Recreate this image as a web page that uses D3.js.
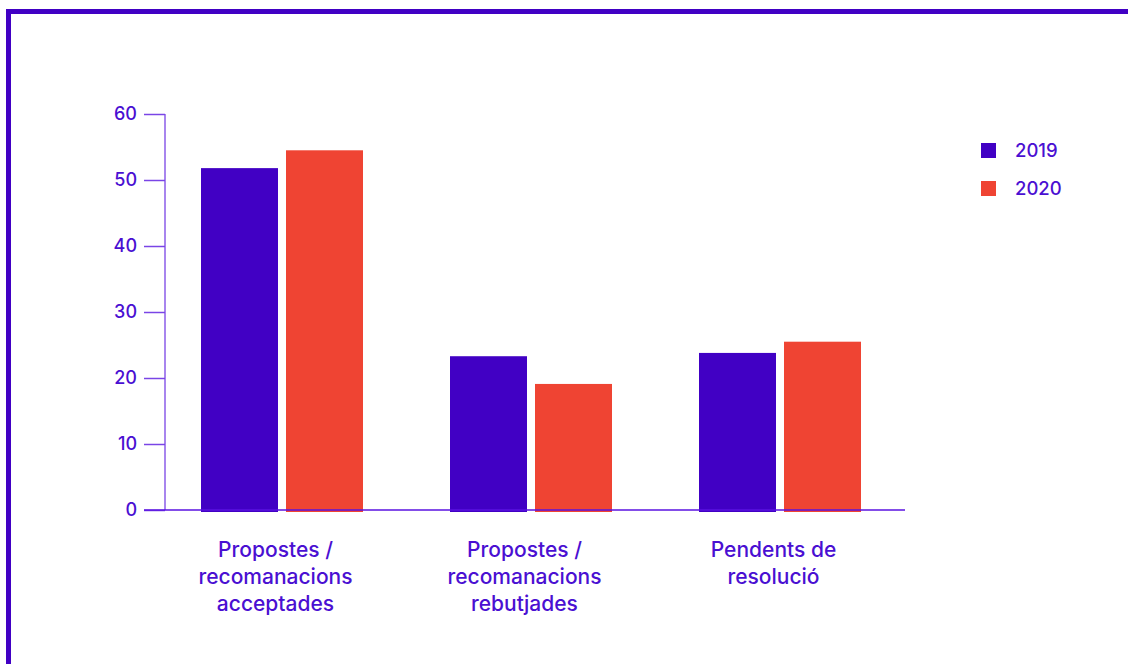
<!DOCTYPE html>
<html>
<head>
<meta charset="utf-8">
<script src="https://cdn.jsdelivr.net/npm/d3@7"></script>
<style>
  html, body { margin: 0; padding: 0; background: #fff; }
  svg { display: block; }
  text { font-family: Inter, "Liberation Sans", Arial, sans-serif; fill: #4a0fd2; font-weight: 500; }
</style>
</head>
<body>
<svg id="chart" width="1128" height="664"></svg>
<script>
// Data
const categories = [
  ["Propostes /", "recomanacions", "acceptades"],
  ["Propostes /", "recomanacions", "rebutjades"],
  ["Pendents de", "resolució"]
];
const seriesNames = ["2019", "2020"];
const values2019 = [51.8, 23.3, 23.8];
const values2020 = [54.5, 19.1, 25.5];
const yTicks = [0, 10, 20, 30, 40, 50, 60];
const colors = ["#4100c4", "#ef4433"];

const svg = d3.select("#chart");

// Frame: thick purple border along top and left
svg.append("path")
  .attr("d", "M8.5,664 L8.5,11.5 L1128,11.5")
  .attr("fill", "none")
  .attr("stroke", "#4100c4")
  .attr("stroke-width", 5);

const y = d3.scaleLinear().domain([0, 60]).range([510, 114]);
const x0 = d3.scaleBand().domain(d3.range(categories.length)).range([157.5, 904.5]).padding(0);
const groupWidth = 162;
const x1 = d3.scaleBand().domain(seriesNames).range([0, groupWidth]).paddingInner(8 / 85);

// Y axis
const yAxis = svg.append("g").attr("transform", "translate(165,0)")
  .call(d3.axisLeft(y).tickValues(yTicks).tickSize(21).tickPadding(7));
yAxis.select(".domain").attr("stroke", "#8b5ce8").attr("stroke-width", 1.5).attr("d", `M0,${y(60)}V${y(0)}`);
yAxis.selectAll(".tick line").attr("stroke", "#7a45e6").attr("stroke-width", 1.5);
yAxis.selectAll(".tick text")
  .attr("fill", "#4a0fd2")
  .style("font-size", "18px")
  .style("font-weight", "500")
  .style("font-family", "Inter, 'Liberation Sans', Arial, sans-serif");

// Bars
const rows = categories.map((c, i) => ({ i, vals: [values2019[i], values2020[i]] }));
const groups = svg.append("g").selectAll("g").data(rows).join("g")
  .attr("transform", d => `translate(${x0(d.i) + x0.bandwidth() / 2 - groupWidth / 2},0)`);
groups.selectAll("rect")
  .data(d => d.vals.map((v, k) => ({ key: seriesNames[k], v, k })))
  .join("rect")
  .attr("x", d => x1(d.key))
  .attr("width", x1.bandwidth())
  .attr("y", d => y(d.v))
  .attr("height", d => y(0) - y(d.v) + 2)
  .attr("fill", d => colors[d.k]);

// Baseline
svg.append("line")
  .attr("x1", 144).attr("x2", 905)
  .attr("y1", y(0)).attr("y2", y(0))
  .attr("stroke", "#5a12e0").attr("stroke-width", 1.5);

// Category labels, set slightly left of each group's centre
const labels = svg.append("g").selectAll("text").data(categories).join("text")
  .attr("text-anchor", "middle")
  .attr("x", (d, i) => x0(i) + x0.bandwidth() / 2 - 6.5)
  .attr("y", 557)
  .style("font-size", "21px");
labels.selectAll("tspan").data(d => d).join("tspan")
  .attr("x", function () { return this.parentNode.getAttribute("x"); })
  .attr("dy", (d, j) => j === 0 ? 0 : 27)
  .text(d => d);

// Legend
const legend = svg.append("g").selectAll("g").data(seriesNames).join("g")
  .attr("transform", (d, i) => `translate(981,${143 + i * 38})`);
legend.append("rect").attr("width", 15).attr("height", 15).attr("fill", (d, i) => colors[i]);
legend.append("text").attr("x", 34).attr("y", 14).style("font-size", "18.5px").text(d => d);
</script>
</body>
</html>
